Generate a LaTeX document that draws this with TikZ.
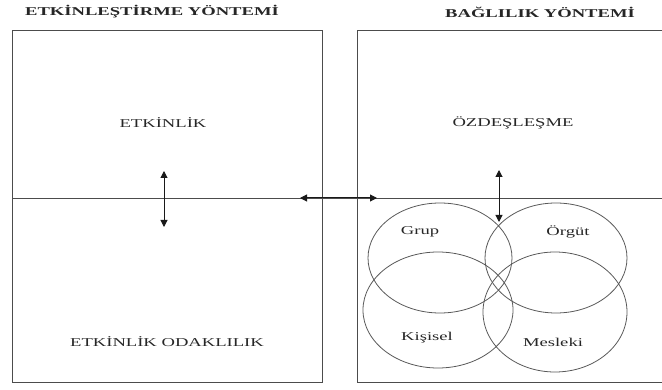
\documentclass[tikz,border=0pt]{standalone}
\usepackage{fontspec}
\setmainfont{Liberation Serif}
\usetikzlibrary{arrows.meta}
\newcommand{\wide}[1]{\scalebox{1.55}[1]{#1}}
\tikzset{
  frame/.style={draw=black!70, line width=0.9pt},
  conn/.style={draw=black!90, line width=1pt, {Triangle[length=7pt,width=7pt]}-{Triangle[length=7pt,width=7pt]}},
  ring/.style={draw=black!65, line width=0.8pt},
  ttl/.style={font=\fontsize{12}{14}\selectfont\bfseries, text=black!85, inner sep=0pt},
  lbl/.style={font=\fontsize{12}{14}\selectfont, text=black!85, inner sep=0pt}
}
\begin{document}
\begin{tikzpicture}[x=1pt,y=-1pt]
\useasboundingbox (0,0) rectangle (662,390);
% boxes
\draw[frame] (12,30) rectangle (322,382);
\draw[frame] (662,30) -- (357,30) -- (357,382) -- (662,382);
\draw[frame] (12,198) -- (662,198);
% titles
\node[ttl] (t1) at (152,12) {\wide{ETKİNLEŞTİRME YÖNTEMİ}};
\node[ttl] (t2) at (540,12) {\wide{BAĞLILIK YÖNTEMİ}};
% labels
\node[lbl] (etk) at (163,123) {\wide{ETKİNLİK}};
\node[lbl] (ozd) at (513,123) {\wide{ÖZDEŞLEŞME}};
\node[lbl] (odak) at (167,342) {\wide{ETKİNLİK ODAKLILIK}};
% ellipses
\draw[ring] (440,258) ellipse [x radius=72, y radius=55];
\draw[ring] (556,258) ellipse [x radius=71, y radius=55];
\draw[ring] (438,310) ellipse [x radius=75, y radius=58];
\draw[ring] (555,312) ellipse [x radius=72, y radius=60];
\node[lbl] (grup) at (420,232) {\wide{Grup}};
\node[lbl] (orgut) at (568,232) {\wide{Örgüt}};
\node[lbl] (kisisel) at (427,338) {\wide{Kişisel}};
\node[lbl] (mesleki) at (553,342) {\wide{Mesleki}};
% arrow ends
\coordinate (a1) at (164,171);
\coordinate (a2) at (164,227);
\coordinate (b1) at (300,198);
\coordinate (b2) at (377,198);
\coordinate (c1) at (499,170);
\coordinate (c2) at (499,222);
\draw[conn] (a1) -- (a2);
\draw[conn] (b1) -- (b2);
\draw[conn] (c1) -- (c2);
\end{tikzpicture}
\end{document}
